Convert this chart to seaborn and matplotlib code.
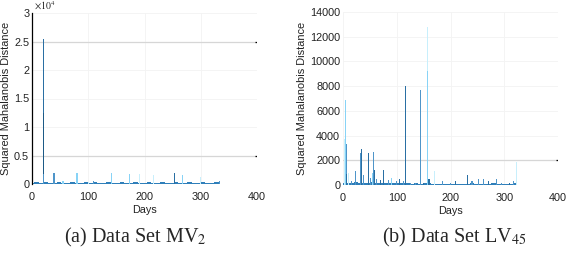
import numpy as np
import pandas as pd
import matplotlib
matplotlib.use("Agg")
import matplotlib.pyplot as plt
import seaborn as sns

# ---------------- data ----------------
# Panel (a): MV2, values in units of 1e4
a_days = [20, 20, 21, 39, 55, 80, 100, 110, 141, 174, 191, 216, 254, 267, 299, 333]
a_vals = [2.54, 1.24, 0.17, 0.19, 0.05, 0.19, 0.04, 0.06, 0.19, 0.18, 0.17, 0.16, 0.19, 0.15, 0.12, 0.06]
a_shade = ["dark", "deep", "medium", "medium", "light", "light", "pale", "medium",
           "light", "light", "pale", "pale", "dark", "light", "pale", "medium"]
a_base_days = [0, 8, 16, 24, 32, 40, 48, 56, 64, 72, 80, 88, 96, 104, 112, 120, 128,
               136, 144, 152, 160, 168, 176, 184, 192, 200, 208, 216, 224, 232, 240,
               248, 256, 264, 272, 280, 288, 296, 304, 312, 320, 328]
a_base_vals = [0.02, 0.03, 0.02, 0.03, 0.02, 0.02, 0.03, 0.02, 0.02, 0.03, 0.02, 0.02,
               0.03, 0.02, 0.03, 0.02, 0.02, 0.03, 0.02, 0.02, 0.03, 0.02, 0.02, 0.03,
               0.02, 0.02, 0.03, 0.02, 0.02, 0.03, 0.02, 0.02, 0.03, 0.02, 0.02, 0.03,
               0.02, 0.02, 0.03, 0.02, 0.02, 0.03]
a_thresholds = [2.5, 0.5]

# Panel (b): LV45
b_days = [2, 5, 6, 7, 10, 16, 23, 32, 34, 38, 47, 52, 55, 57, 58, 62, 70, 76, 85, 90,
          100, 105, 112, 117, 125, 135, 145, 150, 158, 158, 160, 170, 185, 200, 210,
          231, 240, 252, 262, 270, 285, 295, 310, 318, 322]
b_vals = [3700, 6900, 3300, 900, 1000, 300, 1100, 2600, 2900, 800, 2600, 600, 1000,
          2700, 1200, 500, 400, 1200, 400, 600, 300, 500, 300, 8050, 200, 200, 7700,
          200, 12800, 9200, 500, 1100, 300, 200, 300, 800, 300, 500, 500, 300, 500,
          200, 200, 300, 1900]
b_shade = ["pale", "light", "medium", "dark", "pale", "medium", "medium", "medium",
           "dark", "medium", "dark", "medium", "light", "medium", "dark", "medium",
           "dark", "dark", "medium", "light", "medium", "dark", "medium", "dark",
           "medium", "medium", "medium", "dark", "pale", "light", "dark", "pale",
           "medium", "medium", "dark", "dark", "medium", "medium", "medium", "dark",
           "medium", "medium", "dark", "medium", "pale"]
b_base_days = [0, 8, 16, 24, 32, 40, 48, 56, 64, 72, 80, 88, 96, 104, 112, 120, 128,
               136, 144, 152, 160, 168, 176, 184, 192, 200, 208, 216, 224, 232, 240,
               248, 256, 264, 272, 280, 288, 296, 304, 312, 320]
b_base_vals = [150, 200, 150, 250, 200, 150, 200, 250, 150, 200, 150, 200, 150, 150,
               200, 150, 120, 150, 100, 150, 150, 120, 100, 120, 100, 100, 120, 100,
               120, 100, 150, 120, 100, 120, 100, 150, 120, 100, 120, 100, 150]
b_thresholds = [2000]

xticks = [0, 100, 200, 300, 400]
a_yticks = [0, 0.5, 1, 1.5, 2, 2.5, 3]
a_yticklabels = ["0", "0.5", "1", "1.5", "2", "2.5", "3"]
b_yticks = [0, 2000, 4000, 6000, 8000, 10000, 12000, 14000]

palette = {"deep": "#1d5a86", "dark": "#2a6fa3", "medium": "#4f95c9",
           "light": "#88d3f6", "pale": "#c8effc"}
base_color = "#2f7fba"

# ---------------- figure ----------------
sns.set_theme(style="white")
plt.rcParams["font.family"] = ["Liberation Sans", "DejaVu Sans"]
plt.rcParams["mathtext.fontset"] = "stix"

fig = plt.figure(figsize=(5.68, 2.68), dpi=100)
axA = fig.add_axes([32 / 568, 84 / 268, 225 / 568, 171 / 268])
axB = fig.add_axes([343 / 568, 83 / 268, 215 / 568, 173 / 268])


def draw(ax, days, vals, shade, bdays, bvals, thresholds, ymax):
    base = pd.DataFrame({"day": bdays, "val": bvals})
    sns.barplot(data=base, x="day", y="val", native_scale=True, color=base_color,
                saturation=1, width=1.0, linewidth=0, edgecolor="none",
                ax=ax, errorbar=None, zorder=2)
    df = pd.DataFrame({"day": days, "val": vals, "shade": shade})
    sns.barplot(data=df, x="day", y="val", hue="shade", palette=palette,
                saturation=1, native_scale=True, dodge=False, width=2.0,
                linewidth=0, edgecolor="none",
                ax=ax, errorbar=None, legend=False, zorder=3)
    for t in thresholds:
        ax.axhline(t, color="#d6d6d6", lw=0.9, zorder=1)
        ax.hlines(t, 396, 400, color="black", lw=0.9, zorder=4)
    ax.set_xlim(0, 400)
    ax.set_ylim(0, ymax)
    ax.set_xticks(xticks)
    ax.set_xticklabels([str(x) for x in xticks])
    ax.grid(True, color="#f3f3f3", lw=0.6, zorder=0)
    ax.set_axisbelow(True)
    for s in ["top", "right", "bottom", "left"]:
        ax.spines[s].set_visible(False)
    ax.tick_params(axis="y", labelsize=7.8, colors="#222222", length=0, pad=2)
    ax.tick_params(axis="x", labelsize=7.8, colors="#222222", length=0, pad=6)
    ax.set_xlabel("Days", fontsize=7.8, labelpad=2, color="#222222")
    ax.set_ylabel("Squared Mahalanobis Distance", fontsize=7.9, labelpad=2, color="#222222")


draw(axA, a_days, a_vals, a_shade, a_base_days, a_base_vals, a_thresholds, 3)
axA.set_yticks(a_yticks)
axA.set_yticklabels(a_yticklabels)
axA.spines["left"].set_visible(True)
axA.spines["left"].set_color("black")
axA.spines["left"].set_linewidth(0.9)
axA.text(0.01, 1.005, r"$\times10^4$", transform=axA.transAxes, fontsize=7,
         ha="left", va="bottom", color="#222222", family="DejaVu Sans")

draw(axB, b_days, b_vals, b_shade, b_base_days, b_base_vals, b_thresholds, 14000)
axB.set_yticks(b_yticks)
axB.set_yticklabels([str(v) for v in b_yticks])

fig.text(135 / 568, 1 - 237 / 268, "(a) Data Set MV$_2$", ha="center", va="center",
         fontsize=14.5, family="Liberation Serif")
fig.text(454 / 568, 1 - 237 / 268, "(b) Data Set LV$_{45}$", ha="center", va="center",
         fontsize=14.5, family="Liberation Serif")

fig.savefig("out.png", dpi=100)
